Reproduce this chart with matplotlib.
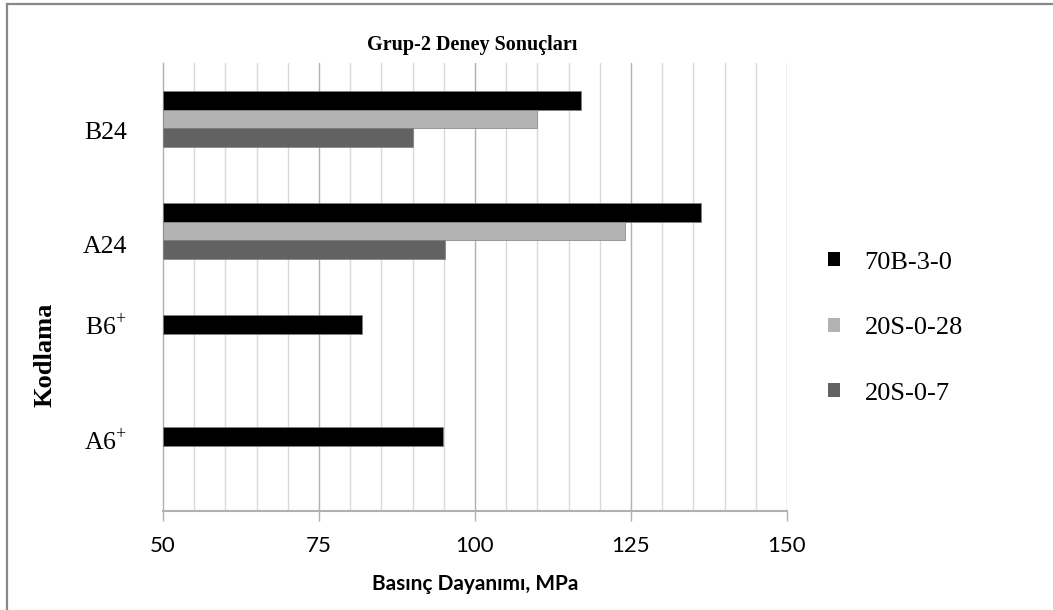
import matplotlib
matplotlib.use('Agg')
import matplotlib.pyplot as plt
import numpy as np
from matplotlib.lines import Line2D
from matplotlib.patches import Patch

plt.rcParams['mathtext.fontset'] = 'custom'
plt.rcParams['mathtext.rm'] = 'Liberation Serif'

# kodlar alttan üste
codes = [r'A6$^{+}$', r'B6$^{+}$', 'A24', 'B24']
series_names = ['70B-3-0', '20S-0-28', '20S-0-7']
s_70b_3_0 = [94.8, 81.9, 136.2, 117.0]
s_20s_0_28 = [np.nan, np.nan, 124.1, 110.0]
s_20s_0_7 = [np.nan, np.nan, 95.2, 90.0]
colors = ['#000000', '#b3b3b3', '#626262']

BASE = 50
x_ticks = [50, 75, 100, 125, 150]

fig = plt.figure(figsize=(10.53, 6.10), dpi=100)
ax = fig.add_axes([0.1548, 0.1623, 0.5926, 0.7344])

y = np.arange(len(codes))
h = 1 / 6
for vals, col, off in zip([s_70b_3_0, s_20s_0_28, s_20s_0_7], colors, [h, 0, -h]):
    v = np.array(vals, dtype=float)
    ax.barh(y + off, v - BASE, left=BASE, height=h, color=col,
            edgecolor='#808080', linewidth=0.5, zorder=3)

ax.set_xlim(50, 150)
ax.set_ylim(-0.5, 3.5)

# dikey kılavuz çizgileri
for xv in range(55, 151, 5):
    major = xv % 25 == 0
    ax.axvline(xv, color='#b0b0b0' if major else '#d9d9d9',
               lw=1.0, zorder=1)

for s in ['top', 'right']:
    ax.spines[s].set_visible(False)
ax.spines['left'].set_color('#b0b0b0')
ax.spines['bottom'].set_color('#b0b0b0')
ax.spines['left'].set_linewidth(1.0)
ax.spines['bottom'].set_linewidth(1.5)

ax.set_xticks(x_ticks)
ax.set_xticklabels([str(t) for t in x_ticks], family='Lato', fontsize=16)
ax.tick_params(axis='x', length=7, color='#b0b0b0', width=1, pad=11)

# kod etiketleri, çubuk gruplarının biraz yanında
ax.set_yticks([])
label_y = [0.04, 1.07, 1.80, 2.82]
for code, ly in zip(codes, label_y):
    ax.text(-0.058, ly, code, transform=ax.get_yaxis_transform(),
            ha='right', va='baseline', family='Liberation Serif', fontsize=18.5)

fig.text(0.451, 0.042, 'Basınç Dayanımı, MPa', family='Lato',
         fontweight='bold', fontsize=15, ha='center', va='center')
fig.text(0.0427, 0.418, 'Kodlama', family='Liberation Serif',
         fontweight='bold', fontsize=19, rotation=90, ha='center', va='center')

fig.text(0.448, 0.926, 'Grup-2 Deney Sonuçları', family='Liberation Serif',
         fontweight='bold', fontsize=14.5, ha='center', va='center')

handles = [Patch(facecolor=c, edgecolor='none') for c in colors]
fig.legend(handles, series_names, loc='center left',
           bbox_to_anchor=(0.786, 0.462), frameon=False,
           prop={'family': 'Liberation Serif', 'size': 19},
           handlelength=0.45, handleheight=0.45, labelspacing=1.65,
           handletextpad=0.95, borderpad=0, borderaxespad=0)

# çerçeve
fig.add_artist(Line2D([0.0066, 0.0066], [0, 0.994], color='#888888', lw=1.6,
                      transform=fig.transFigure))
fig.add_artist(Line2D([0.0066, 1], [0.994, 0.994], color='#888888', lw=1.6,
                      transform=fig.transFigure))

fig.savefig('out.png', dpi=100)
